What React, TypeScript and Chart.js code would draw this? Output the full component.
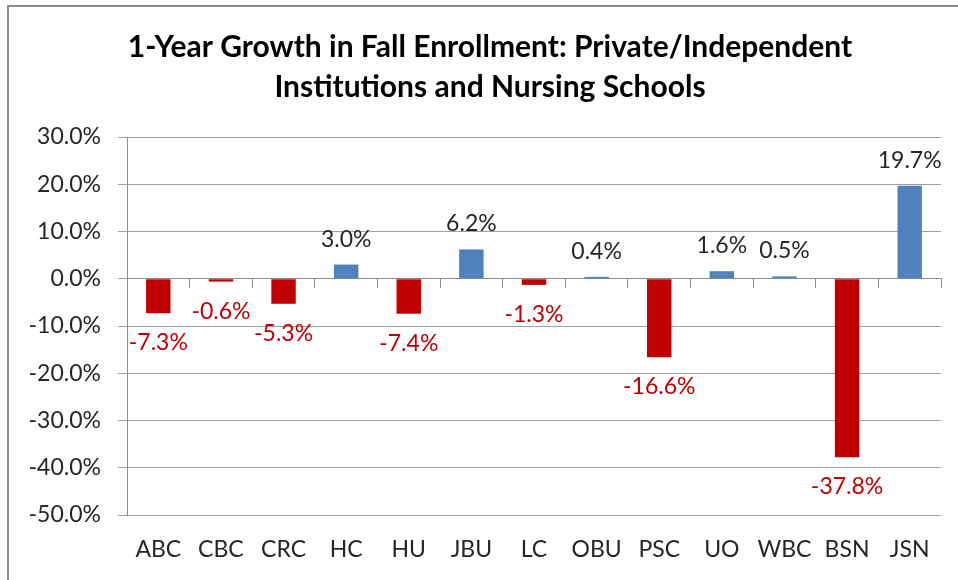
import React, { useEffect, useRef } from "react";
import { Chart, registerables } from "chart.js";

Chart.register(...registerables);

const categories = ["ABC", "CBC", "CRC", "HC", "HU", "JBU", "LC", "OBU", "PSC", "UO", "WBC", "BSN", "JSN"];
const growthPct = [-7.3, -0.6, -5.3, 3.0, -7.4, 6.2, -1.3, 0.4, -16.6, 1.6, 0.5, -37.8, 19.7];
const titleLines = [
  "1-Year Growth in Fall Enrollment: Private/Independent",
  "Institutions and Nursing Schools",
];
const yMin = -50;
const yMax = 30;
const yStep = 10;

const POS_COLOR = "#4F81BD";
const NEG_COLOR = "#C00000";
const TEXT_COLOR = "#262626";
const FONT = "Lato";

const titlePlugin = {
  id: "customTitle",
  afterDraw(chart: any) {
    const ctx = chart.ctx;
    ctx.save();
    ctx.font = `bold 30px ${FONT}`;
    ctx.fillStyle = "#000000";
    ctx.textAlign = "center";
    ctx.textBaseline = "alphabetic";
    const baselines = [57, 97];
    titleLines.forEach((line, i) => ctx.fillText(line, 490, baselines[i]));
    ctx.restore();
  },
};

const labelPlugin = {
  id: "barLabels",
  afterDatasetsDraw(chart: any) {
    const ctx = chart.ctx;
    const meta = chart.getDatasetMeta(0);
    ctx.save();
    ctx.font = `23px ${FONT}`;
    ctx.textAlign = "center";
    ctx.textBaseline = "alphabetic";
    meta.data.forEach((bar: any, i: number) => {
      const v = growthPct[i];
      const p = bar.getProps(["x", "y"], true);
      ctx.fillStyle = v >= 0 ? TEXT_COLOR : NEG_COLOR;
      ctx.fillText(v.toFixed(1) + "%", p.x, v >= 0 ? p.y - 18 : p.y + 37);
    });
    ctx.restore();
  },
};

export default function App() {
  const ref = useRef<HTMLCanvasElement | null>(null);

  useEffect(() => {
    if (!ref.current) return;
    Chart.defaults.font.family = FONT;
    const chart = new Chart(ref.current, {
      type: "bar",
      data: {
        labels: categories,
        datasets: [
          {
            data: growthPct,
            backgroundColor: growthPct.map((v) => (v >= 0 ? POS_COLOR : NEG_COLOR)),
            borderWidth: 0,
            barPercentage: 0.39,
            categoryPercentage: 1,
            xAxisID: "x",
            yAxisID: "y",
          },
        ],
      },
      options: {
        animation: false,
        responsive: false,
        devicePixelRatio: 1,
        layout: { padding: { top: 137, right: 17, bottom: 0, left: 0 } },
        plugins: {
          legend: { display: false },
          tooltip: { enabled: false },
          title: { display: false },
        },
        scales: {
          x: {
            type: "category",
            position: "bottom",
            grid: { display: false, drawTicks: false },
            border: { display: false },
            ticks: {
              color: TEXT_COLOR,
              font: { size: 23, family: FONT },
              padding: 21,
              autoSkip: false,
              maxRotation: 0,
            },
            afterFit(s: any) {
              s.height = 65;
            },
          },
          x2: {
            type: "category",
            position: { y: 0 },
            grid: { drawOnChartArea: false, drawTicks: true, tickLength: 9, offset: true, color: "#8c8c8c" },
            border: { display: true, color: "#8c8c8c", width: 1 },
            ticks: { display: false },
          },
          y: {
            min: yMin,
            max: yMax,
            ticks: {
              stepSize: yStep,
              callback: (v: any) => Number(v).toFixed(1) + "%",
              padding: 17,
              color: TEXT_COLOR,
              font: { size: 23, family: FONT },
            },
            grid: { color: "#a0a0a0", drawTicks: true, tickLength: 9 },
            border: { color: "#8c8c8c" },
            afterFit(s: any) {
              s.width = 127;
            },
          },
        },
      },
      plugins: [labelPlugin, titlePlugin],
    } as any);
    return () => chart.destroy();
  }, []);

  return (
    <div
      style={{
        position: "fixed",
        left: 0,
        top: 0,
        width: 958,
        height: 580,
        background: "#ffffff",
        overflow: "hidden",
      }}
    >
      <div
        style={{
          position: "absolute",
          left: 7,
          top: 5,
          width: 2000,
          height: 2000,
          borderLeft: "2px solid #8c8c8c",
          borderTop: "2px solid #8c8c8c",
        }}
      />
      <canvas
        ref={ref}
        width={958}
        height={580}
        style={{ position: "absolute", left: 0, top: 0, width: 958, height: 580 }}
      />
    </div>
  );
}
